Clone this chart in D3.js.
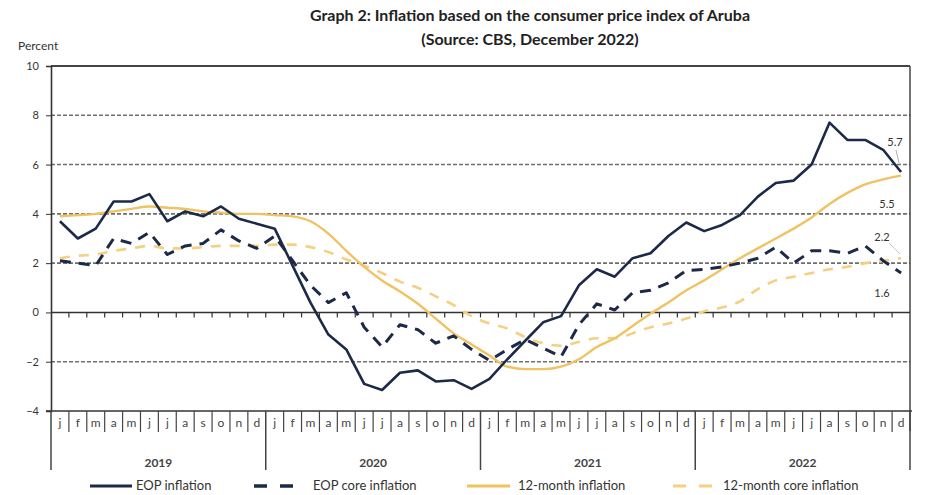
<!DOCTYPE html>
<html lang="en">
<head>
<meta charset="utf-8">
<title>Aruba CPI inflation</title>
<script src="https://cdn.jsdelivr.net/npm/d3@7"></script>
<style>
  body { margin: 0; background: #fff; }
  svg text { font-family: Lato, "Open Sans", sans-serif; }
</style>
</head>
<body>
<script>
// ---- data ----
var years = ["2019", "2020", "2021", "2022"];
var monthLetters = ["j","f","m","a","m","j","j","a","s","o","n","d"];
var yTicks = [10, 8, 6, 4, 2, 0, -2, -4];

var eopInflation = [
  3.7, 3.0, 3.4, 4.5, 4.5, 4.8, 3.7, 4.1, 3.9, 4.3, 3.8, 3.6,
  3.4, 1.9, 0.4, -0.9, -1.5, -2.9, -3.15, -2.45, -2.35, -2.8, -2.75, -3.1,
  -2.7, -1.9, -1.15, -0.4, -0.15, 1.1, 1.75, 1.45, 2.2, 2.4, 3.1, 3.65,
  3.3, 3.55, 3.95, 4.7, 5.25, 5.35, 6.0, 7.7, 7.0, 7.0, 6.6, 5.7
];
var eopCore = [
  2.1, 2.0, 1.9, 3.0, 2.8, 3.25, 2.35, 2.7, 2.8, 3.35, 2.9, 2.6,
  3.1, 2.1, 1.1, 0.4, 0.8, -0.6, -1.4, -0.5, -0.7, -1.25, -0.95, -1.5,
  -1.95, -1.5, -1.1, -1.45, -1.8, -0.5, 0.35, 0.1, 0.8, 0.9, 1.2, 1.7,
  1.75, 1.85, 2.0, 2.2, 2.65, 2.0, 2.5, 2.5, 2.4, 2.7, 2.1, 1.6
];
var twelveMonth = [
  3.9, 3.95, 4.0, 4.1, 4.2, 4.3, 4.25, 4.2, 4.1, 4.05, 4.0, 4.0,
  3.95, 3.9, 3.7, 3.2, 2.5, 1.85, 1.3, 0.85, 0.35, -0.25, -0.85, -1.3,
  -1.75, -2.2, -2.3, -2.3, -2.2, -1.9, -1.4, -1.05, -0.55, -0.05, 0.4, 0.9,
  1.3, 1.75, 2.2, 2.6, 3.0, 3.4, 3.85, 4.4, 4.85, 5.2, 5.4, 5.55
];
var twelveMonthCore = [
  2.2, 2.3, 2.35, 2.5, 2.6, 2.7, 2.6, 2.6, 2.65, 2.7, 2.7, 2.7,
  2.75, 2.75, 2.65, 2.45, 2.15, 1.9, 1.6, 1.25, 1.0, 0.65, 0.3, -0.15,
  -0.45, -0.65, -1.0, -1.25, -1.35, -1.2, -1.05, -1.05, -0.85, -0.6, -0.45, -0.25,
  0.05, 0.2, 0.45, 0.95, 1.3, 1.45, 1.6, 1.75, 1.85, 2.0, 2.1, 2.2
];
var endLabels = [
  {text: "5.7", x: 895, y: 146},
  {text: "5.5", x: 887, y: 208},
  {text: "2.2", x: 882, y: 241},
  {text: "1.6", x: 882, y: 297}
];

var series = [
  {name: "EOP inflation", values: eopInflation, color: "#1c2a48", width: 2.6, dash: null, curve: d3.curveLinear},
  {name: "EOP core inflation", values: eopCore, color: "#1c2a48", width: 3, dash: "11,8", curve: d3.curveLinear},
  {name: "12-month inflation", values: twelveMonth, color: "#f0c262", width: 2.4, dash: null, curve: d3.curveMonotoneX},
  {name: "12-month core inflation", values: twelveMonthCore, color: "#f5cf82", width: 2.6, dash: "10,9", curve: d3.curveMonotoneX}
];

// ---- layout ----
var W = 925, H = 495;
var plotLeft = 51, plotRight = 910, plotTop = 66, plotBottom = 411;
var nMonths = years.length * 12;

var svg = d3.select("body").append("svg")
  .attr("width", W).attr("height", H);

var x = d3.scaleLinear().domain([0, nMonths]).range([plotLeft, plotRight]);
var y = d3.scaleLinear().domain([-4, 10]).range([plotBottom, plotTop]);

// titles
svg.append("text").attr("x", 530).attr("y", 21).attr("text-anchor", "middle")
  .attr("font-size", 16).attr("font-weight", "bold").attr("fill", "#222")
  .text("Graph 2: Inflation based on the consumer price index of Aruba");
svg.append("text").attr("x", 530).attr("y", 45).attr("text-anchor", "middle")
  .attr("font-size", 16).attr("font-weight", "bold").attr("fill", "#222")
  .text("(Source: CBS, December 2022)");
svg.append("text").attr("x", 18).attr("y", 50)
  .attr("font-size", 12).attr("fill", "#333").text("Percent");

// gridlines
svg.append("g").selectAll("line")
  .data(yTicks.filter(function(d) { return d != 0 && d != 10 && d != -4; }))
  .enter().append("line")
  .attr("x1", plotLeft).attr("x2", plotRight)
  .attr("y1", function(d) { return y(d); }).attr("y2", function(d) { return y(d); })
  .attr("stroke", "#6e6e6e").attr("stroke-width", 1.6).attr("stroke-dasharray", "4,2");

// top and right border
svg.append("line").attr("x1", plotLeft).attr("x2", plotRight).attr("y1", y(10)).attr("y2", y(10))
  .attr("stroke", "#444").attr("stroke-width", 2);
svg.append("line").attr("x1", plotRight).attr("x2", plotRight).attr("y1", y(10)).attr("y2", plotBottom + 20)
  .attr("stroke", "#444").attr("stroke-width", 1.5);

// zero line with month ticks
svg.append("line").attr("x1", plotLeft).attr("x2", plotRight).attr("y1", y(0)).attr("y2", y(0))
  .attr("stroke", "#333").attr("stroke-width", 1.6);
svg.append("g").selectAll("line").data(d3.range(1, nMonths)).enter().append("line")
  .attr("x1", function(d) { return x(d); }).attr("x2", function(d) { return x(d); })
  .attr("y1", y(0)).attr("y2", y(0) + 5)
  .attr("stroke", "#333").attr("stroke-width", 1.2);

// y axis
var yAxis = d3.axisLeft(y).tickValues(yTicks).tickSize(5).tickFormat(d3.format("d"));
var yg = svg.append("g").attr("transform", "translate(" + plotLeft + ",0)").call(yAxis);
yg.select(".domain").attr("stroke", "#333").attr("stroke-width", 1.6);
yg.selectAll(".tick line").attr("stroke", "#333");
yg.selectAll(".tick text").attr("font-size", 11).attr("fill", "#333")
  .attr("font-family", "Lato, sans-serif").attr("x", -12);

// bottom axis line
svg.append("line").attr("x1", plotLeft - 5).attr("x2", plotRight + 2).attr("y1", plotBottom).attr("y2", plotBottom)
  .attr("stroke", "#333").attr("stroke-width", 1.6);

// month separators and letters
var months = d3.range(nMonths).map(function(i) { return {i: i, letter: monthLetters[i % 12]}; });
svg.append("g").selectAll("line").data(d3.range(1, nMonths).filter(function(d) { return d % 12 != 0; }))
  .enter().append("line")
  .attr("x1", function(d) { return x(d); }).attr("x2", function(d) { return x(d); })
  .attr("y1", plotBottom).attr("y2", plotBottom + 21)
  .attr("stroke", "#444").attr("stroke-width", 1.2);
svg.append("g").selectAll("text").data(months).enter().append("text")
  .attr("x", function(d) { return x(d.i + 0.5); }).attr("y", plotBottom + 16)
  .attr("text-anchor", "middle").attr("font-size", 12).attr("fill", "#444")
  .text(function(d) { return d.letter; });

// year dividers and labels
svg.append("g").selectAll("line").data(d3.range(0, nMonths + 1, 12)).enter().append("line")
  .attr("x1", function(d) { return x(d); }).attr("x2", function(d) { return x(d); })
  .attr("y1", plotBottom).attr("y2", plotBottom + 59)
  .attr("stroke", "#444").attr("stroke-width", 1.5);
svg.append("g").selectAll("text").data(years).enter().append("text")
  .attr("x", function(d, i) { return x(i * 12 + 6); }).attr("y", plotBottom + 56)
  .attr("text-anchor", "middle").attr("font-size", 12).attr("font-weight", "bold").attr("fill", "#444")
  .text(function(d) { return d; });

// series lines
var line = d3.line()
  .x(function(d, i) { return x(i + 0.5); })
  .y(function(d) { return y(d); });

var drawOrder = [3, 2, 1, 0];
drawOrder.forEach(function(k) {
  var s = series[k];
  svg.append("path").datum(s.values)
    .attr("d", line.curve(s.curve))
    .attr("fill", "none")
    .attr("stroke", s.color)
    .attr("stroke-width", s.width)
    .attr("stroke-dasharray", s.dash)
    .attr("stroke-linejoin", "round");
});

// end value labels
svg.append("g").selectAll("text").data(endLabels).enter().append("text")
  .attr("x", function(d) { return d.x; }).attr("y", function(d) { return d.y; })
  .attr("text-anchor", "middle").attr("font-size", 11).attr("fill", "#333")
  .attr("font-family", "'DejaVu Serif', serif")
  .text(function(d) { return d.text; });
svg.append("line").attr("x1", 896).attr("y1", 150).attr("x2", 899).attr("y2", 163)
  .attr("stroke", "#999").attr("stroke-width", 0.8);
svg.append("line").attr("x1", 889).attr("y1", 243).attr("x2", 900).attr("y2", 254)
  .attr("stroke", "#bbb").attr("stroke-width", 0.8);

// legend
var legendPos = [
  {x1: 90, x2: 132, tx: 136},
  {x1: 254, x2: 298, tx: 313},
  {x1: 467, x2: 510, tx: 518},
  {x1: 673, x2: 713, tx: 723}
];
var lg = svg.append("g").selectAll("g").data(series).enter().append("g");
lg.append("line")
  .attr("x1", function(d, i) { return legendPos[i].x1; })
  .attr("x2", function(d, i) { return legendPos[i].x2; })
  .attr("y1", 486).attr("y2", 486)
  .attr("stroke", function(d) { return d.color; })
  .attr("stroke-width", function(d) { return d.width + 0.6; })
  .attr("stroke-dasharray", function(d) { return d.dash ? "13,13" : null; });
lg.append("text")
  .attr("x", function(d, i) { return legendPos[i].tx; })
  .attr("y", 490).attr("font-size", 13).attr("fill", "#333")
  .text(function(d) { return d.name; });
</script>
</body>
</html>
